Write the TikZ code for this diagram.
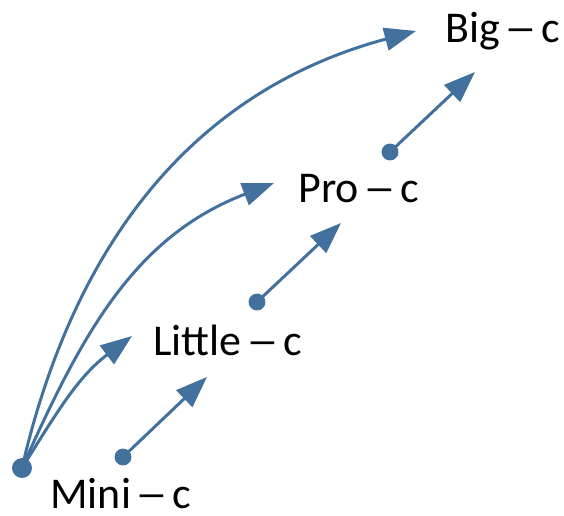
\documentclass[tikz,border=0pt]{standalone}
\usepackage{fontspec}
\setmainfont{Carlito}
\usepackage{calc}
\usetikzlibrary{positioning,calc,arrows.meta}
\definecolor{cblue}{RGB}{66,113,158}
\newcommand{\cdash}{\makebox[\widthof{–}][c]{\scalebox{1.5}[1]{–}}}
\tikzset{cvert/.style={circle,fill=cblue,minimum size=17pt*0.567,inner sep=0pt}  }
\tikzset{bigvert/.style={circle,fill=cblue,minimum size=20pt*0.567,inner sep=0pt}  }
\tikzset{clab/.style={anchor=base west,inner sep=0pt,font=\fontsize{25}{30}\selectfont}  }
\tikzset{carr/.style={draw,->,cblue,line width=1.7pt}  }
\tikzset{>={Triangle[length=0.63cm,width=0.46cm]}}

\begin{document}
\begin{tikzpicture}[x=0.02cm,y=0.02cm]
		\useasboundingbox (0,0) rectangle (564,515);
		\coordinate (mini) at (22,47);
			\coordinate (d1) at (123,58);
			\coordinate (d2) at (257,213);
			\coordinate (d3) at (390,363);
			\coordinate (t1) at (207,138);
			\coordinate (t2) at (341,292);
			\coordinate (t3) at (475,443);
			\coordinate (c1) at (132,179);
			\coordinate (c2) at (274,332);
			\coordinate (c3) at (416,484);

			\node[clab] (nmini) at (50,7) {Mini \cdash{} c};
			\node[clab] (nlittle) at (153,160) {Little \cdash{} c};
			\node[clab] (npro) at (298,313) {Pro \cdash{} c};
			\node[clab] (nbig) at (445,473) {Big \cdash{} c};

			\path[every edge/.style=carr]
				  (mini) edge[out=58,in=217] (c1)
				  edge[out=66,in=201] (c2)
				  edge[out=77,in=195] (c3)
				  (d1) edge (t1) (d2) edge (t2) (d3) edge (t3)
				;
			\node[bigvert] at (mini) {};
			\node[cvert] at (d1) {};
			\node[cvert] at (d2) {};
			\node[cvert] at (d3) {};
	\end{tikzpicture}
\end{document}
